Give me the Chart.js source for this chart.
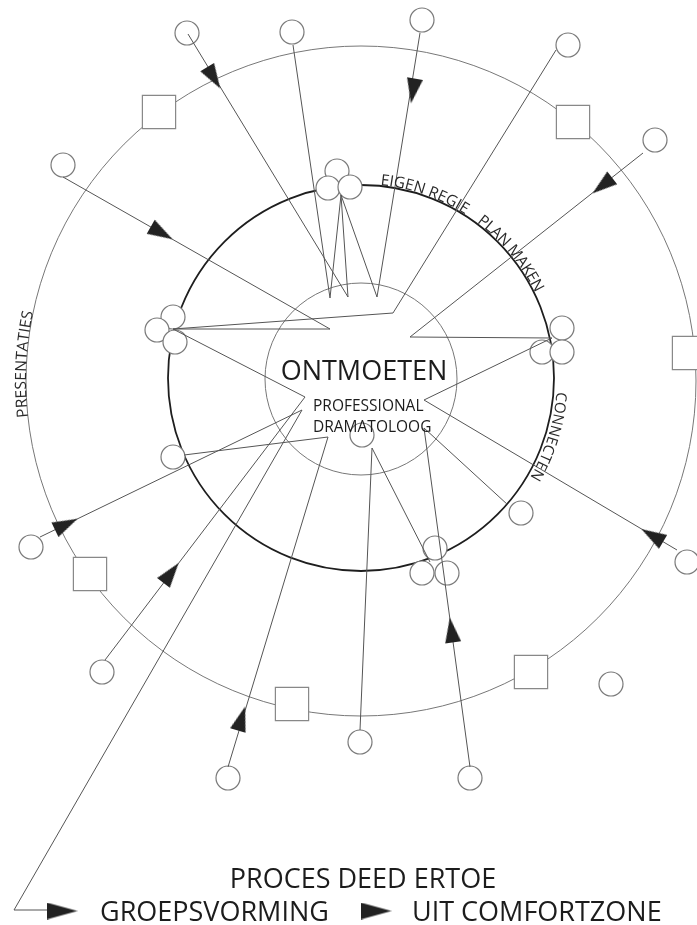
<!DOCTYPE html>
<html>
<head>
<meta charset="utf-8">
<script src="https://cdn.jsdelivr.net/npm/chart.js"></script>
<style>
  html, body { margin: 0; padding: 0; background: #fff; }
</style>
</head>
<body>
<canvas id="grafico" width="697" height="925"></canvas>
<script>
// ringen: buiten, midden, binnen
const ringX = [361, 361, 361]
const ringY = [381, 378, 379]
const ringR = [335, 193, 96]

// kleine cirkels (personen)
const circleX = [187, 292, 422, 568, 655, 63, 31, 102, 228, 360, 470, 611, 687, 521, 173, 362,
  337, 328, 350, 173, 157, 175, 562, 542, 562, 435, 422, 447]
const circleY = [33, 32, 20, 45, 140, 165, 547, 672, 778, 742, 778, 684, 562, 513, 457, 435,
  171, 188, 187, 317, 330, 342, 328, 352, 352, 548, 573, 573]

// vierkanten op de buitenste ring
const squareX = [159, 573, 689, 90, 292, 531]
const squareY = [112, 122, 353, 574, 704, 672]

// verbindingslijnen (x,y punten)
const connectorPaths = [
  [[188, 34], [348, 297], [341, 195]],
  [[293, 45], [330, 298], [341, 195]],
  [[420, 33], [377, 297], [341, 195]],
  [[556, 50], [393, 313], [173, 329]],
  [[63, 177], [330, 329], [173, 329]],
  [[643, 153], [410, 337], [552, 338]],
  [[677, 550], [424, 400], [552, 338]],
  [[173, 329], [305, 397], [105, 660]],
  [[40, 537], [302, 410], [14, 910], [47, 910]],
  [[184, 455], [328, 437], [228, 767]],
  [[508, 505], [424, 428], [470, 767]],
  [[360, 730], [372, 448], [430, 562]]
]

// pijlen op de lijnen
const arrowX = [213.7, 413, 602.4, 161.6, 652.3, 66.2, 171, 241.5, 451.5]
const arrowY = [77.8, 91, 185.6, 233, 535.5, 524.3, 573, 718.5, 630]
const arrowAngle = [58.6, 99.3, 141.7, 29.7, 210.5, -25.9, -52.7, -73.1, -97.7]

// legenda pijlen
const legendArrowX = [62, 376]
const legendArrowY = [911, 911]

// teksten
const plainTexts = ['ONTMOETEN', 'PROFESSIONAL', 'DRAMATOLOOG', 'PROCES DEED ERTOE', 'GROEPSVORMING', 'UIT COMFORTZONE']
const plainX = [364, 313, 313, 363, 100, 412]
const plainY = [380, 411, 432, 888, 921, 921]
const plainSize = [27, 15.5, 15.5, 27, 27, 27]
const plainAlign = ['center', 'left', 'left', 'center', 'left', 'left']

const arcTexts = ['EIGEN REGIE', 'PLAN MAKEN', 'CONNECTEN', 'PRESENTATIES']
const arcRing = [1, 1, 1, 0]
const arcStart = [-84.3, -53.4, 4, 173.8]
const arcEnd = [-57.5, -26, 30.5, 191.9]
const arcGap = [1, 1, 3, 0]
const arcSize = [15.5, 15.5, 15, 15.5]

const makeArrow = (len, wid) => {
    const c = document.createElement('canvas')
    c.width = len
    c.height = wid
    const g = c.getContext('2d')
    g.fillStyle = '#222'
    g.beginPath()
    g.moveTo(0, 0)
    g.lineTo(len, wid / 2)
    g.lineTo(0, wid)
    g.closePath()
    g.fill()
    return c
}
const arrowImg = makeArrow(25, 16)
const legendImg = makeArrow(31, 17)

const toPoints = (xs, ys) => xs.map((v, i) => ({ x: v, y: ys[i] }))

const ringRadius = (c) => {
    const sx = c.chart.scales.x
    const i = c.dataIndex
    return sx.getPixelForValue(ringX[i] + ringR[i]) - sx.getPixelForValue(ringX[i])
}

const lineSets = connectorPaths.map((p) => ({
    data: p.map((q) => ({ x: q[0], y: q[1] })),
    showLine: true,
    borderColor: '#555',
    borderWidth: 1,
    pointRadius: 0,
    tension: 0,
    order: 3
}))

const textPlugin = {
    id: 'teksten',
    afterDatasetsDraw(chart) {
        const { ctx, scales: { x, y } } = chart
        ctx.save()
        ctx.fillStyle = '#1c1c1c'
        ctx.textBaseline = 'alphabetic'
        plainTexts.forEach((t, i) => {
            ctx.font = `${plainSize[i]}px "Open Sans"`
            ctx.textAlign = plainAlign[i]
            ctx.fillText(t, x.getPixelForValue(plainX[i]), y.getPixelForValue(plainY[i]))
        })
        // tekst langs de ringen
        ctx.fillStyle = '#2a2a2a'
        arcTexts.forEach((t, i) => {
            const k = arcRing[i]
            const cx = x.getPixelForValue(ringX[k])
            const cy = y.getPixelForValue(ringY[k])
            const rb = x.getPixelForValue(ringX[k] + ringR[k] + arcGap[i]) - cx
            ctx.font = `${arcSize[i]}px "Open Sans"`
            const chars = [...t]
            const widths = chars.map((ch) => ctx.measureText(ch).width)
            const total = widths.reduce((a, b) => a + b, 0)
            const a0 = arcStart[i] * Math.PI / 180
            const a1 = arcEnd[i] * Math.PI / 180
            const gap = (rb * (a1 - a0) - total) / (chars.length - 1)
            let s = 0
            chars.forEach((ch, j) => {
                const a = a0 + (s + widths[j] / 2) / rb
                ctx.save()
                ctx.translate(cx + rb * Math.cos(a), cy + rb * Math.sin(a))
                ctx.rotate(a + Math.PI / 2)
                ctx.textAlign = 'center'
                ctx.fillText(ch, 0, 0)
                ctx.restore()
                s += widths[j] + gap
            })
        })
        ctx.restore()
    }
}

const config = {
    type: 'scatter',
    data: {
        datasets: [
            {
                data: toPoints(ringX, ringY),
                pointStyle: 'circle',
                pointRadius: ringRadius,
                pointBackgroundColor: 'rgba(0,0,0,0)',
                pointBorderColor: ['#777', '#1e1e1e', '#777'],
                pointBorderWidth: [1, 1.8, 1],
                order: 6
            },
            {
                data: toPoints(squareX, squareY),
                pointStyle: 'rect',
                pointRadius: 23.5,
                pointBackgroundColor: '#fff',
                pointBorderColor: '#888',
                pointBorderWidth: 1.2,
                order: 5
            },
            {
                data: toPoints(circleX, circleY),
                pointStyle: 'circle',
                pointRadius: 12,
                pointBackgroundColor: '#fff',
                pointBorderColor: '#7a7a7a',
                pointBorderWidth: 1.2,
                order: 4
            },
            ...lineSets,
            {
                data: toPoints(arrowX, arrowY),
                pointStyle: arrowImg,
                pointRotation: arrowAngle,
                pointRadius: 10,
                order: 1
            },
            {
                data: toPoints(legendArrowX, legendArrowY),
                pointStyle: legendImg,
                pointRadius: 10,
                order: 1
            }
        ]
    },
    options: {
        responsive: false,
        animation: false,
        events: [],
        layout: { padding: 0, autoPadding: false },
        plugins: {
            legend: { display: false },
            tooltip: { enabled: false }
        },
        scales: {
            x: { type: 'linear', min: 0, max: 697, display: false },
            y: { type: 'linear', min: 0, max: 925, reverse: true, display: false }
        }
    },
    plugins: [textPlugin]
}

const chartjs = new Chart(document.getElementById('grafico'), config)
</script>
</body>
</html>
